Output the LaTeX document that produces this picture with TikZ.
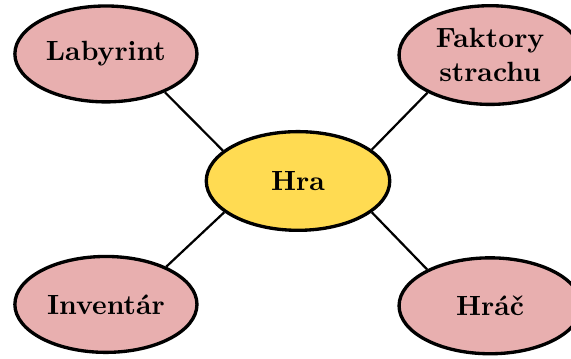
\documentclass[tikz,border=0pt]{standalone}
\usepackage{tikz}
\usetikzlibrary{shapes.geometric}
\definecolor{rosepink}{RGB}{232,175,175}
\definecolor{sunyellow}{RGB}{255,219,82}
\tikzset{
	topic/.style={ellipse, draw, very thick, fill=rosepink, font=\bfseries,
		align=center, inner sep=0pt, minimum width=65.5pt, minimum height=34.5pt},
	core/.style={topic, fill=sunyellow, minimum width=66pt, minimum height=35.5pt},
	link/.style={thick}
}
\begin{document}
\begin{tikzpicture}
	\useasboundingbox (0,0) rectangle (205.4pt,-128.8pt);
	\node[core] (hra) at (107.2pt,-65.1pt) {Hra};
	\node[topic] (labyrint) at (38.1pt,-19.4pt) {Labyrint};
	\node[topic, minimum height=35.5pt] (faktory) at (176.3pt,-19.8pt) {Faktory\\strachu};
	\node[topic] (inventar) at (38.1pt,-109.5pt) {Inventár};
	\node[topic] (hrac) at (176.3pt,-110pt) {Hráč};
	\draw[link] (hra.158) -- (labyrint.-33);
	\draw[link] (hra.23) -- (faktory.211);
	\draw[link] (hra.203) -- (inventar.32);
	\draw[link] (hra.-23) -- (hrac.150);
\end{tikzpicture}
\end{document}
